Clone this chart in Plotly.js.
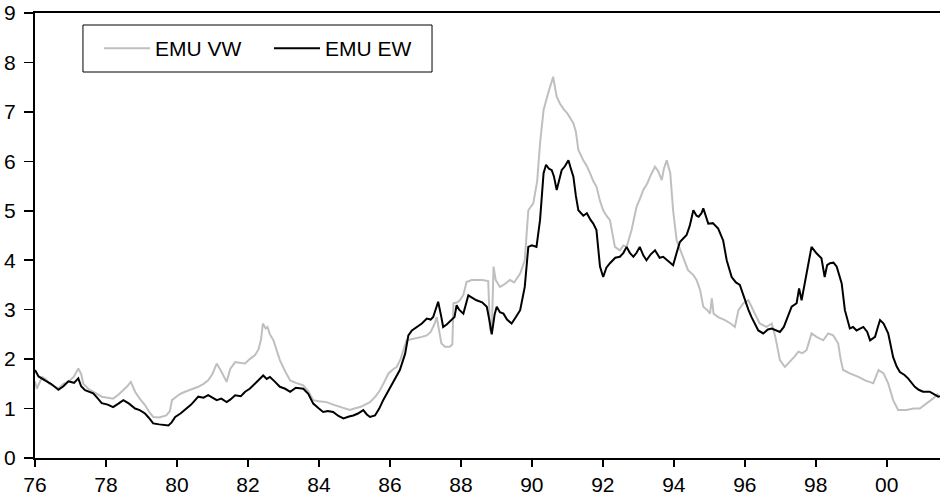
<!DOCTYPE html>
<html>
<head>
<meta charset="utf-8">
<script src="https://cdn.plot.ly/plotly-3.0.1.min.js"></script>
<style>html,body{margin:0;padding:0;background:#fff;}#chart{width:940px;height:497px;}</style>
</head>
<body>
<div id="chart"></div>
<script>
// Year (decimal, 76 = 1976) and value for each series
var vwName = "EMU VW";
var ewName = "EMU EW";

var ewYears = [76.0,76.1,76.28,76.45,76.66,76.8,76.94,77.1,77.22,77.3,77.41,77.64,77.75,77.88,78.05,78.2,78.35,78.49,78.65,78.82,78.95,79.1,79.2,79.33,79.5,79.65,79.76,79.85,79.95,80.1,80.23,80.4,80.6,80.75,80.88,81.0,81.12,81.25,81.4,81.5,81.64,81.8,81.92,82.05,82.2,82.34,82.43,82.53,82.62,82.75,82.9,83.05,83.19,83.35,83.56,83.7,83.84,84.0,84.12,84.25,84.4,84.55,84.69,84.85,84.97,85.1,85.25,85.35,85.44,85.58,85.7,85.81,85.95,86.1,86.2,86.28,86.43,86.52,86.62,86.75,86.9,87.04,87.15,87.22,87.36,87.45,87.5,87.6,87.74,87.82,87.88,87.95,88.07,88.21,88.3,88.44,88.6,88.73,88.8,88.87,88.95,89.01,89.1,89.2,89.3,89.43,89.55,89.67,89.8,89.9,90.0,90.13,90.23,90.33,90.4,90.48,90.56,90.62,90.7,90.77,90.84,90.93,91.03,91.1,91.17,91.24,91.31,91.45,91.55,91.65,91.73,91.82,91.92,92.01,92.1,92.2,92.35,92.48,92.58,92.67,92.76,92.86,92.95,93.04,93.14,93.23,93.35,93.47,93.6,93.7,93.85,93.98,94.08,94.17,94.36,94.45,94.55,94.64,94.7,94.78,94.83,94.97,95.1,95.25,95.39,95.49,95.63,95.75,95.86,96.0,96.1,96.19,96.38,96.52,96.65,96.76,96.9,96.99,97.1,97.18,97.32,97.46,97.53,97.6,97.74,97.88,98.02,98.16,98.25,98.32,98.4,98.5,98.59,98.73,98.82,98.96,99.05,99.15,99.34,99.45,99.53,99.67,99.75,99.81,99.91,100.04,100.18,100.28,100.37,100.5,100.6,100.79,100.9,101.02,101.21,101.36,101.45,101.5];
var ewValues = [1.78,1.65,1.57,1.50,1.38,1.45,1.55,1.52,1.61,1.45,1.37,1.31,1.22,1.11,1.08,1.03,1.10,1.17,1.10,1.00,0.97,0.90,0.82,0.70,0.68,0.67,0.66,0.72,0.83,0.90,0.97,1.08,1.24,1.22,1.27,1.22,1.17,1.20,1.13,1.18,1.27,1.25,1.34,1.40,1.51,1.62,1.67,1.60,1.64,1.55,1.44,1.40,1.34,1.42,1.40,1.30,1.10,1.00,0.93,0.95,0.93,0.85,0.80,0.84,0.86,0.90,0.97,0.88,0.83,0.86,1.00,1.17,1.35,1.57,1.70,1.78,2.11,2.48,2.58,2.65,2.72,2.82,2.80,2.85,3.16,2.85,2.65,2.70,2.79,2.85,3.09,3.00,2.92,3.29,3.25,3.19,3.15,3.06,2.80,2.50,2.90,3.06,2.95,2.92,2.80,2.72,2.85,2.99,3.46,4.27,4.30,4.27,4.81,5.76,5.93,5.85,5.82,5.70,5.42,5.65,5.82,5.90,6.02,5.85,5.69,5.30,5.01,4.90,4.95,4.82,4.74,4.61,3.87,3.66,3.85,3.94,4.05,4.07,4.15,4.27,4.15,4.07,4.15,4.27,4.10,4.00,4.12,4.20,4.05,4.07,3.98,3.90,4.15,4.37,4.51,4.70,5.01,4.90,4.88,4.95,5.05,4.74,4.75,4.64,4.40,4.00,3.66,3.55,3.50,3.19,3.00,2.85,2.58,2.52,2.60,2.62,2.58,2.55,2.65,2.79,3.06,3.13,3.43,3.19,3.73,4.27,4.14,4.04,3.66,3.90,3.94,3.95,3.87,3.53,2.99,2.62,2.65,2.58,2.65,2.55,2.38,2.45,2.65,2.79,2.72,2.52,2.04,1.85,1.74,1.68,1.61,1.44,1.38,1.34,1.34,1.27,1.24,1.25];

var vwYears = [76.0,76.05,76.2,76.3,76.4,76.55,76.66,76.8,76.94,77.1,77.22,77.3,77.36,77.5,77.64,77.75,77.88,78.05,78.2,78.35,78.49,78.6,78.7,78.82,78.95,79.1,79.2,79.33,79.5,79.7,79.8,79.86,80.0,80.1,80.23,80.4,80.6,80.75,80.88,81.0,81.12,81.25,81.4,81.5,81.64,81.8,81.92,82.05,82.2,82.3,82.37,82.42,82.5,82.55,82.62,82.72,82.8,82.9,83.05,83.19,83.35,83.56,83.7,83.84,84.0,84.22,84.4,84.6,84.75,84.87,85.0,85.16,85.3,85.44,85.6,85.72,85.85,85.96,86.1,86.19,86.3,86.4,86.47,86.6,86.75,86.9,87.04,87.15,87.25,87.32,87.38,87.45,87.55,87.69,87.76,87.79,87.9,87.97,88.07,88.16,88.3,88.44,88.6,88.77,88.82,88.87,88.92,88.98,89.1,89.2,89.38,89.5,89.67,89.8,89.9,90.04,90.15,90.23,90.33,90.46,90.55,90.6,90.65,90.7,90.79,90.9,91.0,91.1,91.17,91.24,91.31,91.45,91.55,91.64,91.73,91.82,91.92,92.01,92.1,92.2,92.28,92.34,92.48,92.58,92.67,92.75,92.81,92.88,92.95,93.05,93.14,93.25,93.33,93.47,93.56,93.66,93.72,93.8,93.9,93.98,94.08,94.22,94.4,94.55,94.64,94.74,94.83,94.93,95.02,95.07,95.12,95.25,95.44,95.6,95.72,95.82,95.96,96.1,96.24,96.42,96.61,96.76,96.86,96.93,96.99,97.13,97.27,97.4,97.51,97.62,97.74,97.88,98.02,98.21,98.35,98.49,98.63,98.7,98.77,98.96,99.2,99.39,99.62,99.77,99.91,100.04,100.18,100.32,100.56,100.75,100.93,101.12,101.3,101.45];
var vwValues = [1.55,1.40,1.64,1.60,1.50,1.45,1.41,1.50,1.54,1.65,1.81,1.70,1.50,1.40,1.34,1.30,1.24,1.22,1.20,1.28,1.37,1.45,1.54,1.34,1.20,1.07,0.95,0.83,0.82,0.86,0.95,1.17,1.25,1.30,1.34,1.38,1.44,1.50,1.57,1.70,1.91,1.75,1.54,1.80,1.94,1.92,1.91,2.00,2.08,2.20,2.40,2.72,2.62,2.65,2.50,2.38,2.20,1.98,1.75,1.57,1.52,1.47,1.35,1.17,1.15,1.13,1.08,1.03,1.00,0.97,1.00,1.03,1.08,1.13,1.25,1.37,1.55,1.71,1.80,1.84,2.00,2.25,2.38,2.40,2.42,2.45,2.48,2.55,2.70,2.85,2.60,2.32,2.25,2.25,2.30,3.13,3.15,3.19,3.30,3.56,3.60,3.60,3.60,3.58,2.60,2.52,3.87,3.60,3.46,3.50,3.60,3.55,3.73,4.00,5.01,5.15,5.60,6.36,7.04,7.38,7.60,7.71,7.50,7.31,7.17,7.05,6.97,6.85,6.77,6.60,6.23,6.02,5.90,5.76,5.60,5.49,5.20,5.01,4.90,4.81,4.50,4.27,4.20,4.30,4.27,4.45,4.61,4.85,5.08,5.25,5.42,5.55,5.69,5.89,5.80,5.62,5.85,6.02,5.76,5.01,4.40,4.14,3.80,3.70,3.60,3.40,3.06,3.00,2.92,3.23,2.92,2.85,2.79,2.72,2.65,2.99,3.13,3.19,2.99,2.72,2.65,2.72,2.45,2.20,1.98,1.84,1.94,2.05,2.15,2.12,2.18,2.52,2.45,2.38,2.52,2.48,2.32,2.00,1.78,1.71,1.64,1.57,1.51,1.78,1.71,1.51,1.17,0.97,0.97,1.00,1.00,1.10,1.20,1.30];

var xTickVals = [76,78,80,82,84,86,88,90,92,94,96,98,100];
var xTickText = ["76","78","80","82","84","86","88","90","92","94","96","98","00"];
var yTickVals = [0,1,2,3,4,5,6,7,8,9];

var traces = [
  {x: vwYears, y: vwValues, name: vwName, type: "scatter", mode: "lines",
   line: {color: "#bfbfbf", width: 2}},
  {x: ewYears, y: ewValues, name: ewName, type: "scatter", mode: "lines",
   line: {color: "#000000", width: 2}}
];

var FONT = "Liberation Sans, Arial, sans-serif";

var layout = {
  width: 940, height: 497,
  margin: {l: 35, r: 0, t: 13, b: 39, pad: 0},
  paper_bgcolor: "#ffffff", plot_bgcolor: "#ffffff",
  font: {family: FONT, color: "#000", size: 21},
  showlegend: true,
  legend: {
    x: 0.0707, y: 0.966, xanchor: "left", yanchor: "top",
    orientation: "h", borderwidth: 0, bgcolor: "rgba(0,0,0,0)",
    font: {size: 21, family: FONT},
    entrywidth: 109, entrywidthmode: "pixels", itemwidth: 46
  },
  shapes: [
    {type: "rect", xref: "paper", yref: "paper",
     x0: 0.0530, x1: 0.4387, y0: 0.8674, y1: 0.9730,
     line: {color: "#000", width: 1}, fillcolor: "rgba(0,0,0,0)", layer: "below"}
  ],
  xaxis: {
    range: [76, 101.5], tickvals: xTickVals, ticktext: xTickText,
    showgrid: false, zeroline: false, showline: true, linecolor: "#000", linewidth: 2,
    mirror: true, ticks: "outside", ticklen: 7, tickwidth: 1.5, tickcolor: "#000",
    tickfont: {size: 21}
  },
  yaxis: {
    range: [0, 9], tickvals: yTickVals,
    showgrid: false, zeroline: false, showline: true, linecolor: "#000", linewidth: 2,
    ticks: "outside", ticklen: 9, tickwidth: 1.5, tickcolor: "#000",
    tickfont: {size: 21}, ticklabelstandoff: 4
  }
};

Plotly.newPlot("chart", traces, layout, {displayModeBar: false, staticPlot: true});
</script>
</body>
</html>
